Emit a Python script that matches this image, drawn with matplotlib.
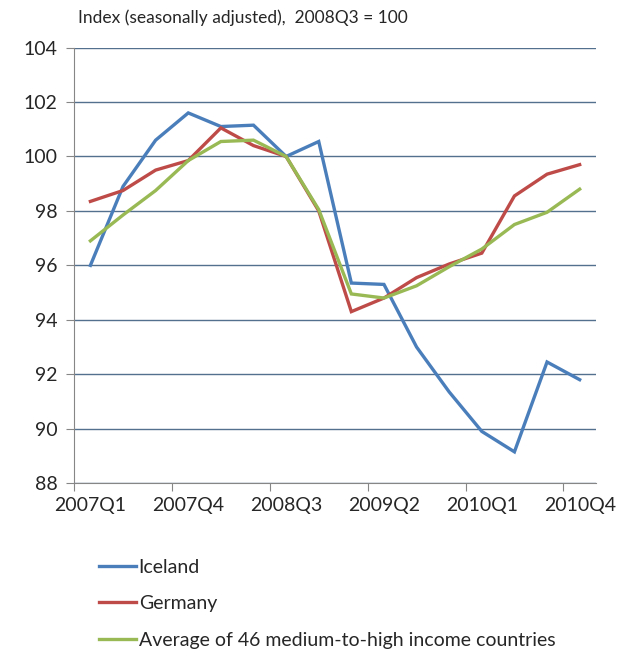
import numpy as np
import matplotlib.pyplot as plt
from matplotlib.ticker import FixedLocator, NullFormatter

plt.rcParams['font.family'] = ['Lato', 'DejaVu Sans']

# Quarterly index values, 2008Q3 = 100
quarters = ['2007Q1', '2007Q2', '2007Q3', '2007Q4',
            '2008Q1', '2008Q2', '2008Q3', '2008Q4',
            '2009Q1', '2009Q2', '2009Q3', '2009Q4',
            '2010Q1', '2010Q2', '2010Q3', '2010Q4']
iceland = [96.0, 98.9, 100.6, 101.6, 101.1, 101.15, 100.0, 100.55,
           95.35, 95.3, 93.0, 91.35, 89.9, 89.15, 92.45, 91.8]
germany = [98.35, 98.75, 99.5, 99.85, 101.05, 100.4, 100.0, 98.0,
           94.3, 94.8, 95.55, 96.05, 96.45, 98.55, 99.35, 99.7]
average = [96.9, 97.85, 98.75, 99.85, 100.55, 100.6, 100.0, 98.05,
           94.95, 94.8, 95.25, 95.95, 96.6, 97.5, 97.95, 98.8]
labels = ['Iceland', 'Germany', 'Average of 46 medium-to-high income countries']
colors = ['#4A7EBB', '#BE4B48', '#98B954']

x = np.arange(len(quarters))

fig = plt.figure(figsize=(6.28, 6.52), dpi=100)
ax = fig.add_axes([0.118, 0.259, 0.831, 0.668])

for series, lab, col in zip([iceland, germany, average], labels, colors):
    ax.plot(x, series, color=col, lw=2.4, label=lab, solid_joinstyle='miter')

ax.set_ylim(88, 104)
ax.set_xlim(-0.5, len(quarters) - 0.5)
ax.set_yticks(np.arange(88, 105, 2))
ax.yaxis.grid(True, color='#53708F', lw=1)
ax.set_axisbelow(True)

# category axis: tick marks between categories, labels on every third quarter
ax.xaxis.set_major_locator(FixedLocator(np.arange(-0.5, len(quarters) - 1, 3)))
ax.xaxis.set_major_formatter(NullFormatter())
ax.set_xticks(x[::3], minor=True)
ax.set_xticklabels([quarters[i] for i in x[::3]], minor=True)
ax.tick_params(axis='x', which='minor', length=0, pad=10, labelsize=14, colors='#262626')
ax.tick_params(axis='x', which='major', length=6, color='#868686')
ax.tick_params(axis='y', length=6, color='#868686', labelsize=14, labelcolor='#262626', pad=6)

for s in ['top', 'right']:
    ax.spines[s].set_visible(False)
for s in ['left', 'bottom']:
    ax.spines[s].set_color('#868686')

fig.text(78 / 628, 1 - 18 / 652, 'Index (seasonally adjusted),  2008Q3 = 100',
         fontsize=12.5, color='#262626', va='center')

ax.legend(loc='upper left', bbox_to_anchor=(0.145, 1 - 551 / 652), bbox_transform=fig.transFigure,
          frameon=False, fontsize=14, handlelength=1.9, handletextpad=0.15,
          labelspacing=1.0, borderaxespad=0, labelcolor='#262626')

fig.savefig('out.png', dpi=100)
